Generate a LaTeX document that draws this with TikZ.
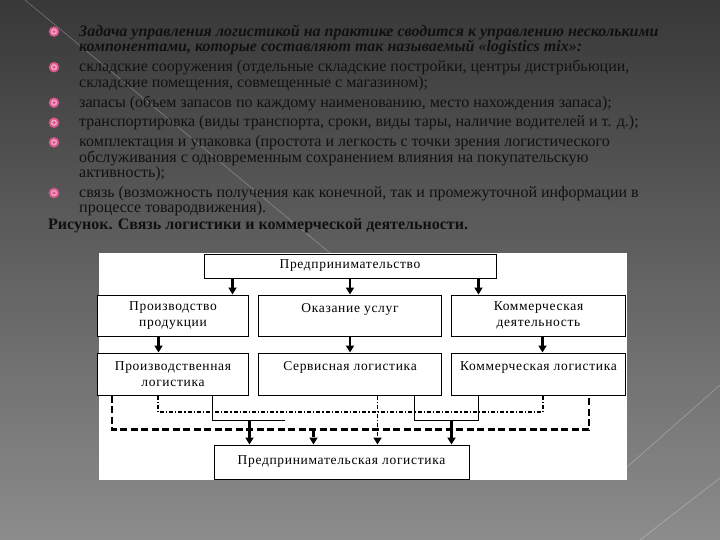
\documentclass[tikz,border=0pt]{standalone}
\usepackage{fontspec}
\setmainfont{Liberation Serif}
\newfontfamily\slidefont{Liberation Serif}
\newfontfamily\boxfont[LetterSpace=5]{Liberation Serif}
\definecolor{SlideTop}{RGB}{56, 56, 56}
\definecolor{SlideBottom}{RGB}{140, 140, 140}
\definecolor{BulletPink}{RGB}{222, 88, 142}
\definecolor{BulletPale}{RGB}{240, 168, 198}
\definecolor{Ink}{RGB}{16, 16, 16}
\usetikzlibrary{arrows.meta, positioning}

\begin{document}
\begin{tikzpicture}[x=1pt, y=-1pt, node distance=16pt,
    every node/.style={font=\boxfont\fontsize{13.5}{15.5}\selectfont},
    item/.style={anchor=north west, inner sep=0pt, align=left, text=Ink, font=\slidefont\fontsize{16}{15.5}\selectfont, execute at begin node=\strut, execute at end node=\strut},
    dot/.style={circle, inner sep=0pt, minimum size=8.5pt, draw=BulletPink, line width=1.8pt, fill=BulletPale, path picture={\fill[BulletPink] (path picture bounding box.center) circle (1.8pt);}},
    box/.style={draw, rectangle, fill=white, line width=1pt, align=center, inner sep=1pt},
    arr/.style={-{Triangle[width=8pt,length=7pt]}, line width=2.4pt},
    dashline/.style={line width=2.2pt, dash pattern=on 7pt off 3.5pt},
    dashdot/.style={line width=1.7pt, dash pattern=on 4pt off 2pt on 1.2pt off 2pt},
    thinline/.style={line width=1pt}]

    % slide
    \fill[top color=SlideTop, bottom color=SlideBottom] (0,0) rectangle (720,540);
    \useasboundingbox (0,0) rectangle (720,540);
    \draw[white, opacity=0.3, line width=0.6pt] (25,0) -- (330,253);
    \draw[white, opacity=0.3, line width=0.6pt] (720,385) -- (626,468);
    \draw[white, opacity=0.3, line width=0.6pt] (640,540) -- (720,478);

    % list
    \node[item, font=\slidefont\fontsize{16}{15.5}\selectfont\bfseries\itshape] (item1) at (79,24.6) {Задача управления логистикой на практике сводится к управлению несколькими\\компонентами, которые составляют так называемый «logistics mix»:};
    \node[item, below=3.5pt of item1.south west, anchor=north west] (item2) {складские сооружения (отдельные складские постройки, центры дистрибьюции,\\складские помещения, совмещенные с магазином);};
    \node[item, below=3.5pt of item2.south west, anchor=north west] (item3) {запасы (объем запасов по каждому наименованию, место нахождения запаса);};
    \node[item, below=3.5pt of item3.south west, anchor=north west] (item4) {транспортировка (виды транспорта, сроки, виды тары, наличие водителей и т. д.);};
    \node[item, below=3.5pt of item4.south west, anchor=north west] (item5) {комплектация и упаковка (простота и легкость с точки зрения логистического\\обслуживания с одновременным сохранением влияния на покупательскую\\активность);};
    \node[item, below=3.5pt of item5.south west, anchor=north west] (item6) {связь (возможность получения как конечной, так и промежуточной информации в\\процессе товародвижения).};
    \node[item, font=\slidefont\fontsize{16}{15.5}\selectfont\bfseries, below=1pt of item6.south west, anchor=north west, xshift=-31pt] (caption) {Рисунок. Связь логистики и коммерческой деятельности.};

    \foreach \it in {item1, item2, item3, item4, item5, item6}
        \node[dot] at ([xshift=-25pt, yshift=-7pt]\it.north west) {};

    % diagram
    \fill[white] (99,253) rectangle (627,480);

    \node[box, minimum width=292pt, minimum height=24pt] (entr) at (350,266) {Предпринимательство};
    \node[box, minimum width=183pt, minimum height=41pt, below=of entr] (serv) {Оказание услуг\\\mbox{}};
    \node[box, minimum width=151pt, minimum height=41pt, left=9pt of serv] (prod) {Производство\\продукции};
    \node[box, minimum width=174pt, minimum height=41pt, right=9pt of serv] (comm) {Коммерческая\\деятельность};

    \node[box, minimum width=151pt, minimum height=42pt, below=of prod] (prodlog) {Производственная\\логистика};
    \node[box, minimum width=183pt, minimum height=42pt, below=of serv] (servlog) {Сервисная логистика\\\mbox{}};
    \node[box, minimum width=174pt, minimum height=42pt, below=of comm] (commlog) {Коммерческая логистика\\\mbox{}};

    \node[box, minimum width=255pt, minimum height=34pt] (entrlog) at (341.5,462) {Предпринимательская логистика};

    \draw[arr] ([xshift=29pt]entr.south west) -- ++(0,16);
    \draw[arr] (entr.south) -- (serv.north);
    \draw[arr] ([xshift=-18pt]entr.south east) -- ++(0,16);

    \draw[arr] ([xshift=-14.5pt]prod.south) -- ++(0,16);
    \draw[arr] (serv.south) -- (servlog.north);
    \draw[arr] ([xshift=4pt]comm.south) -- ++(0,16);

    \draw[dashline] ([xshift=15pt]prodlog.south west) -- ++(0,34) coordinate (dashbus) -| ([xshift=-37pt]commlog.south east);
    \draw[arr, dashline] ([xshift=100pt]entrlog.north west |- dashbus) -- ([xshift=100pt]entrlog.north west);

    \draw[dashdot] ([xshift=61pt]prodlog.south west) -- ++(0,16.5) -| ([xshift=-83pt]commlog.south east);
    \draw[arr, dashdot] ([xshift=27.5pt]servlog.south) -- ([xshift=27.5pt]servlog.south |- entrlog.north);

    \draw[thinline] ([xshift=115pt]prodlog.south west) -- ++(0,25) coordinate (leftbus) -- ++(73,0);
    \draw[arr] ([xshift=36pt]entrlog.north west |- leftbus) -- ([xshift=36pt]entrlog.north west);
    \draw[thinline] ([xshift=-28pt]servlog.south east) -- ++(0,25) coordinate (rightbus) -| ([xshift=27pt]commlog.south west);
    \draw[arr] ([xshift=-18pt]entrlog.north east |- rightbus) -- ([xshift=-18pt]entrlog.north east);
\end{tikzpicture}
\end{document}
